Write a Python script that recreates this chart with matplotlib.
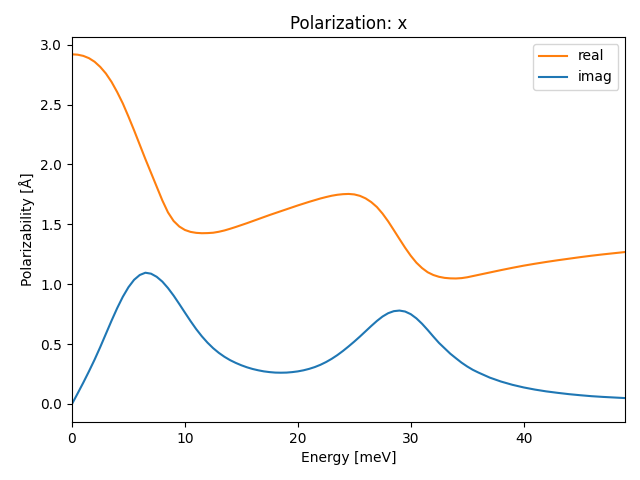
import matplotlib
matplotlib.use("Agg")
import matplotlib.pyplot as plt

# values (half steps up to 36 meV, then whole steps)
energy = [0, 0.5, 1, 1.5, 2, 2.5, 3, 3.5, 4, 4.5, 5, 5.5, 6, 6.5, 7, 7.5, 8, 8.5,
          9, 9.5, 10, 10.5, 11, 11.5, 12, 12.5, 13, 13.5, 14, 14.5, 15, 15.5, 16,
          16.5, 17, 17.5, 18, 18.5, 19, 19.5, 20, 20.5, 21, 21.5, 22, 22.5, 23,
          23.5, 24, 24.5, 25, 25.5, 26, 26.5, 27, 27.5, 28, 28.5, 29, 29.5, 30,
          30.5, 31, 31.5, 32, 32.5, 33, 33.5, 34, 34.5, 35, 35.5, 36, 37, 38, 39,
          40, 41, 42, 43, 44, 45, 46, 47, 48, 49]
real = [2.92, 2.917, 2.907, 2.888, 2.858, 2.815, 2.76, 2.69, 2.605, 2.51, 2.40,
        2.285, 2.165, 2.045, 1.93, 1.815, 1.70, 1.60, 1.528, 1.482, 1.453, 1.437,
        1.429, 1.426, 1.427, 1.43, 1.438, 1.449, 1.463, 1.478, 1.494, 1.51, 1.527,
        1.544, 1.561, 1.578, 1.594, 1.61, 1.626, 1.642, 1.658, 1.673, 1.688,
        1.702, 1.716, 1.728, 1.739, 1.747, 1.752, 1.754, 1.75, 1.738, 1.717,
        1.686, 1.645, 1.59, 1.525, 1.452, 1.378, 1.305, 1.238, 1.18, 1.135, 1.10,
        1.077, 1.062, 1.053, 1.049, 1.048, 1.051, 1.058, 1.068, 1.078, 1.098,
        1.118, 1.137, 1.155, 1.171, 1.186, 1.20, 1.213, 1.226, 1.238, 1.249,
        1.259, 1.269]
imag = [0.0, 0.088, 0.178, 0.272, 0.37, 0.475, 0.585, 0.695, 0.80, 0.895, 0.975,
        1.037, 1.077, 1.096, 1.088, 1.062, 1.022, 0.968, 0.905, 0.835, 0.763,
        0.692, 0.625, 0.565, 0.512, 0.466, 0.427, 0.394, 0.366, 0.343, 0.323,
        0.306, 0.292, 0.281, 0.272, 0.266, 0.262, 0.261, 0.262, 0.266, 0.272,
        0.281, 0.293, 0.308, 0.327, 0.35, 0.377, 0.408, 0.443, 0.481, 0.521,
        0.563, 0.607, 0.651, 0.693, 0.73, 0.758, 0.775, 0.78, 0.772, 0.75, 0.715,
        0.67, 0.618, 0.563, 0.51, 0.465, 0.42, 0.382, 0.345, 0.313, 0.285, 0.262,
        0.22, 0.187, 0.16, 0.138, 0.12, 0.105, 0.093, 0.082, 0.073, 0.065, 0.059,
        0.054, 0.049]

fig, ax = plt.subplots(figsize=(6.4, 4.8), dpi=100)
ax.plot(energy, real, color='tab:orange', label='real')
ax.plot(energy, imag, color='tab:blue', label='imag')
ax.set_xlim(0, 49)
ax.set_ylim(-0.15, 3.065)
ax.set_xlabel('Energy [meV]')
ax.set_ylabel('Polarizability [Å]')
ax.set_title('Polarization: x')
ax.legend(loc=0)
fig.subplots_adjust(left=0.1125, right=0.977, bottom=0.121, top=0.923)
fig.savefig('out.png')
